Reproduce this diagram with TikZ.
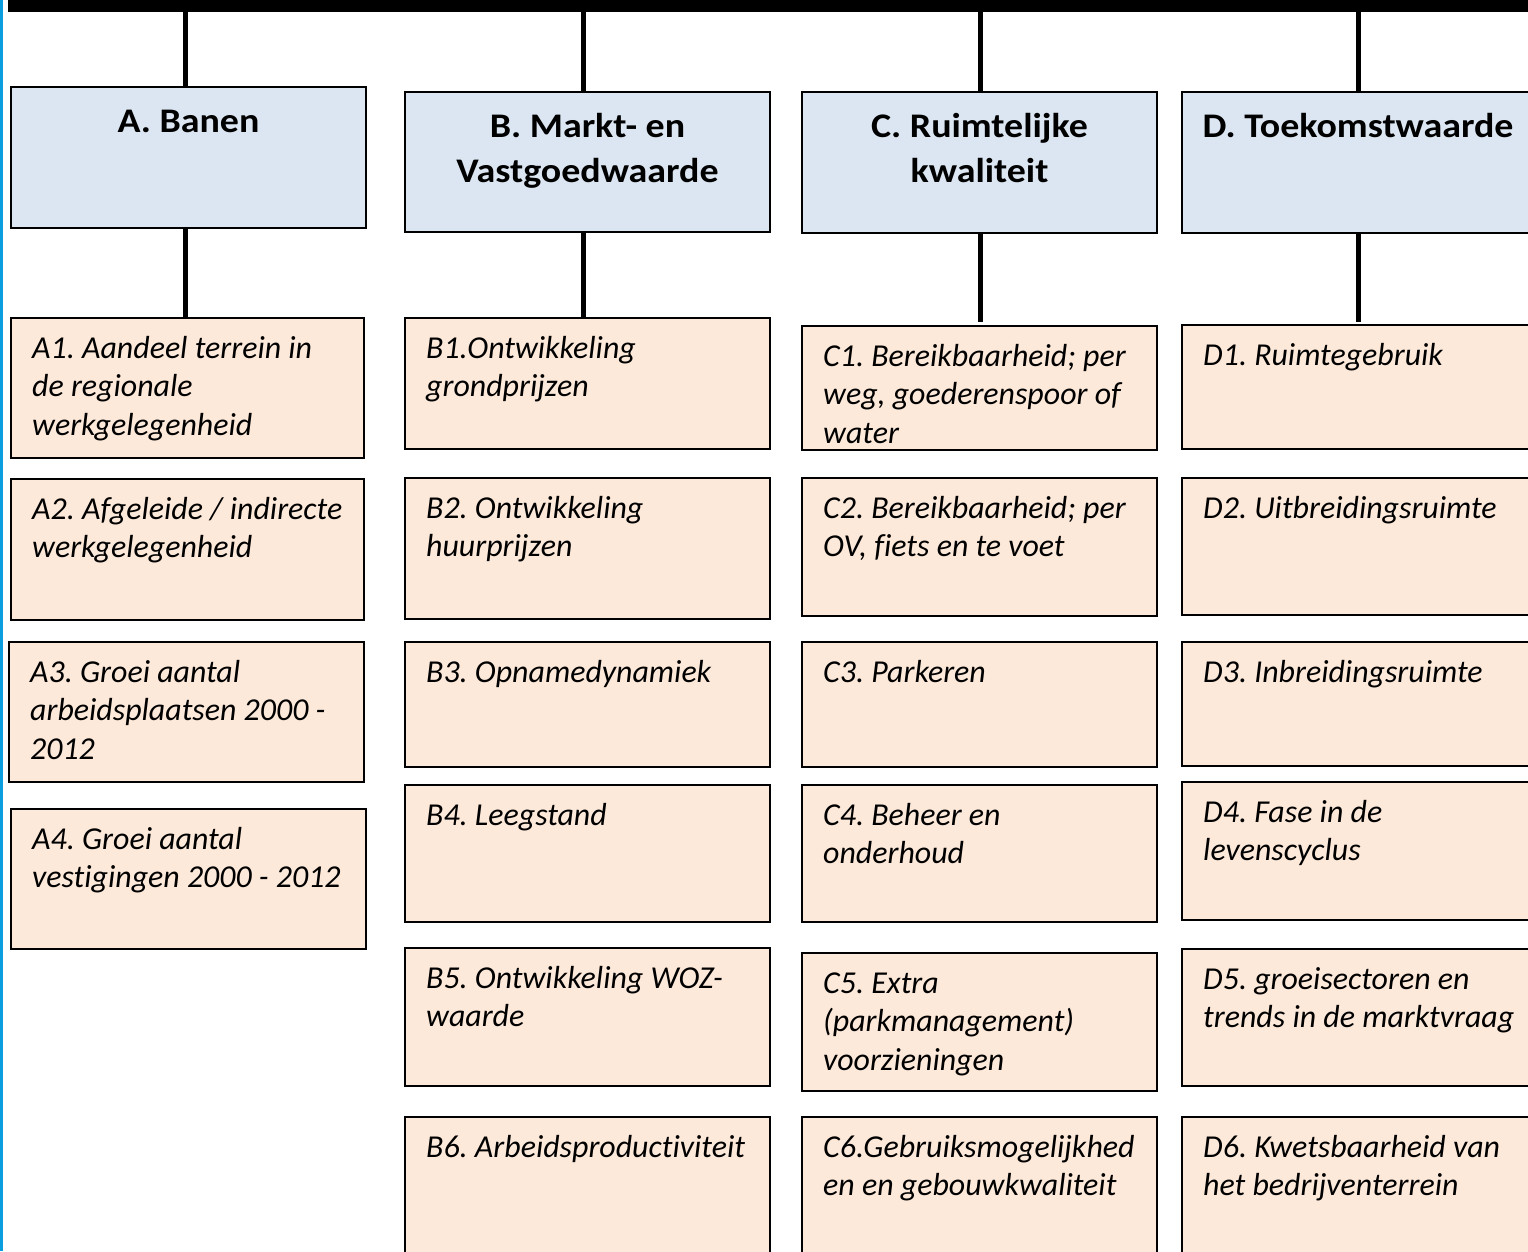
\documentclass[tikz,border=0pt]{standalone}
\usepackage{fontspec}
\setmainfont{Carlito}[Ligatures=NoCommon]
\newfontfamily\hdrfont{Carlito}[FakeStretch=1.1]
\definecolor{hdrblue}{HTML}{DCE6F2}
\definecolor{itempeach}{HTML}{FDE9D9}
\definecolor{edgeblue}{RGB}{10,158,222}
\newcommand\mkitem[6]{%
  \node[itembox, minimum width=#4pt, minimum height=#5pt] (#1) at (#2,#3) {};
  \node[itxt] (#1t) at ([shift={(21,40)}]#1.north west) {\begin{tabular}[t]{@{}l@{}}#6\end{tabular}};}
\newcommand\mkhdr[7]{%
  \node[hdrbox, minimum width=#4pt, minimum height=#5pt] (#1) at (#2,#3) {};
  \node[htxt] (#1t) at ([shift={(#6,45)}]#1.north west) {\begin{tabular}[t]{@{}c@{}}#7\end{tabular}};}
\begin{document}
\frenchspacing
\begin{tikzpicture}[x=1pt,y=-1pt,
  hdrbox/.style={draw=black, line width=1.6pt, fill=hdrblue, anchor=north west, inner sep=0pt, outer sep=0pt},
  itembox/.style={draw=black, line width=1.6pt, fill=itempeach, anchor=north west, inner sep=0pt, outer sep=0pt},
  itxt/.style={anchor=base west, font=\itshape\fontsize{31.9}{38.5}\selectfont, inner sep=0pt},
  htxt/.style={anchor=base, font=\hdrfont\bfseries\fontsize{34.5}{45}\selectfont, inner sep=0pt},
  conn/.style={line width=5pt, draw=black}]
\useasboundingbox (0,0) rectangle (1528,1251);
\clip (0,0) rectangle (1528,1251);
\fill[white] (0,0) rectangle (1528,1251);
% left blue edge and top bar
\fill[edgeblue] (0,0) rectangle (2.7,1251);
\node[fill=black, inner sep=0pt, outer sep=0pt, anchor=north west, minimum width=1530pt, minimum height=11.5pt] (bar) at (8,0) {};
% column x positions of connectors
\coordinate (xa) at (185,0);
\coordinate (xb) at (583,0);
\coordinate (xc) at (980,0);
\coordinate (xd) at (1358,0);
% headers
\mkhdr{ha}{11}{87}{355}{141}{177.5}{A. Banen}
\mkhdr{hb}{405}{92}{365}{140}{182.5}{B. Markt- en\\Vastgoedwaarde}
\mkhdr{hc}{802}{92}{355}{141}{177.5}{C. Ruimtelijke\\kwaliteit}
\mkhdr{hd}{1182}{92}{352}{141}{176}{D. Toekomstwaarde}
% column A
\mkitem{a1}{11}{318}{353}{140}{A1. Aandeel terrein in\\de regionale\\werkgelegenheid}
\mkitem{a2}{11}{479}{353}{141}{A2. Afgeleide / indirecte\\werkgelegenheid}
\mkitem{a3}{9}{642}{355}{140}{A3. Groei aantal\\arbeidsplaatsen 2000 -\\2012}
\mkitem{a4}{11}{809}{355}{140}{A4. Groei aantal\\vestigingen 2000 - 2012}
% column B
\mkitem{b1}{405}{318}{365}{131}{B1.Ontwikkeling\\grondprijzen}
\mkitem{b2}{405}{478}{365}{141}{B2. Ontwikkeling\\huurprijzen}
\mkitem{b3}{405}{642}{365}{125}{B3. Opnamedynamiek}
\mkitem{b4}{405}{785}{365}{137}{B4. Leegstand}
\mkitem{b5}{405}{948}{365}{138}{B5. Ontwikkeling WOZ-\\waarde}
\mkitem{b6}{405}{1117}{365}{160}{B6. Arbeidsproductiviteit}
% column C
\mkitem{c1}{802}{326}{355}{124}{C1. Bereikbaarheid; per\\weg, goederenspoor of\\water}
\mkitem{c2}{802}{478}{355}{138}{C2. Bereikbaarheid; per\\OV, fiets en te voet}
\mkitem{c3}{802}{642}{355}{125}{C3. Parkeren}
\mkitem{c4}{802}{785}{355}{137}{C4. Beheer en\\onderhoud}
\mkitem{c5}{802}{953}{355}{138}{C5. Extra\\(parkmanagement)\\voorzieningen}
\mkitem{c6}{802}{1117}{355}{160}{C6.Gebruiksmogelijkhed\\en en gebouwkwaliteit}
% column D
\mkitem{d1}{1182}{325}{352}{124}{D1. Ruimtegebruik}
\mkitem{d2}{1182}{478}{352}{137}{D2. Uitbreidingsruimte}
\mkitem{d3}{1182}{642}{352}{124}{D3. Inbreidingsruimte}
\mkitem{d4}{1182}{782}{352}{138}{D4. Fase in de\\levenscyclus}
\mkitem{d5}{1182}{949}{352}{137}{D5. groeisectoren en\\trends in de marktvraag}
\mkitem{d6}{1182}{1117}{352}{160}{D6. Kwetsbaarheid van\\het bedrijventerrein}
% connectors
\draw[conn] (bar.south -| xa) -- (ha.north -| xa);
\draw[conn] (bar.south -| xb) -- (hb.north -| xb);
\draw[conn] (bar.south -| xc) -- (hc.north -| xc);
\draw[conn] (bar.south -| xd) -- (hd.north -| xd);
\draw[conn] (ha.south -| xa) -- (a1.north -| xa);
\draw[conn] (hb.south -| xb) -- (b1.north -| xb);
\draw[conn] (hc.south -| xc) -- ([yshift=4pt]c1.north -| xc);
\draw[conn] (hd.south -| xd) -- ([yshift=3pt]d1.north -| xd);
\end{tikzpicture}
\end{document}
